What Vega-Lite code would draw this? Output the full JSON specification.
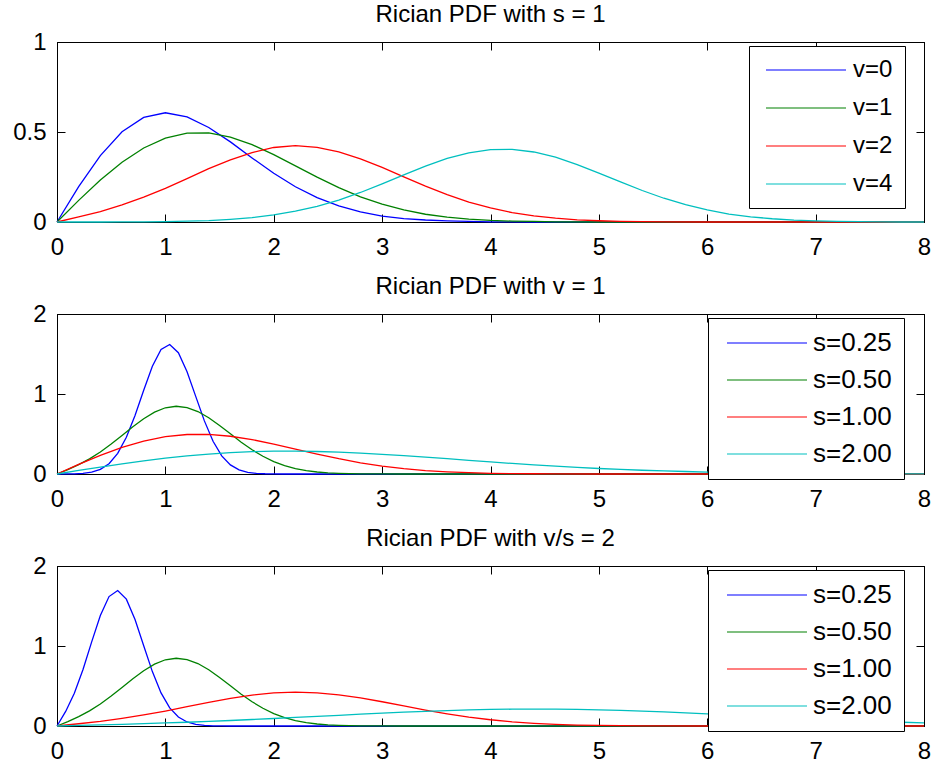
{
"$schema": "https://vega.github.io/schema/vega-lite/v6.json",
"background": "white",
"padding": {"left": 12, "top": 2, "right": 0, "bottom": 0},
"config": {
  "font": "Liberation Sans",
  "view": {"stroke": "black", "strokeWidth": 1},
  "axis": {"domainColor": "black", "domainWidth": 1, "tickColor": "black", "tickWidth": 1, "tickSize": -8, "labelColor": "black", "labelFont": "Liberation Sans", "labelFontSize": 24, "grid": false, "labelFlush": false, "labelOverlap": false},
  "title": {"font": "Liberation Sans", "fontSize": 24, "fontWeight": "normal", "color": "black", "offset": 3, "frame": "group", "anchor": "middle"},
  "legend": {"orient": "none", "title": null, "strokeColor": "black", "fillColor": "white", "padding": 12, "symbolStrokeWidth": 1.2, "labelFont": "Liberation Sans", "labelColor": "black", "labelLimit": 0}
},
"datasets": {
"p1": [
{"k":"v=0","x":0,"y":0},{"k":"v=0","x":0.2,"y":0.196},{"k":"v=0","x":0.4,"y":0.369},{"k":"v=0","x":0.6,"y":0.501},{"k":"v=0","x":0.8,"y":0.581},{"k":"v=0","x":1.0,"y":0.607},{"k":"v=0","x":1.2,"y":0.584},{"k":"v=0","x":1.4,"y":0.525},{"k":"v=0","x":1.6,"y":0.445},{"k":"v=0","x":1.8,"y":0.356},{"k":"v=0","x":2.0,"y":0.271},{"k":"v=0","x":2.2,"y":0.196},{"k":"v=0","x":2.4,"y":0.135},{"k":"v=0","x":2.6,"y":0.089},{"k":"v=0","x":2.8,"y":0.056},{"k":"v=0","x":3.0,"y":0.033},{"k":"v=0","x":3.2,"y":0.019},{"k":"v=0","x":3.4,"y":0.011},{"k":"v=0","x":3.6,"y":0.006},{"k":"v=0","x":3.8,"y":0.003},{"k":"v=0","x":4.0,"y":0.001},{"k":"v=0","x":4.4,"y":0},{"k":"v=0","x":8,"y":0},
{"k":"v=1","x":0,"y":0},{"k":"v=1","x":0.2,"y":0.120},{"k":"v=1","x":0.4,"y":0.233},{"k":"v=1","x":0.6,"y":0.332},{"k":"v=1","x":0.8,"y":0.411},{"k":"v=1","x":1.0,"y":0.466},{"k":"v=1","x":1.2,"y":0.494},{"k":"v=1","x":1.4,"y":0.495},{"k":"v=1","x":1.6,"y":0.472},{"k":"v=1","x":1.8,"y":0.430},{"k":"v=1","x":2.0,"y":0.374},{"k":"v=1","x":2.2,"y":0.312},{"k":"v=1","x":2.4,"y":0.249},{"k":"v=1","x":2.6,"y":0.191},{"k":"v=1","x":2.8,"y":0.140},{"k":"v=1","x":3.0,"y":0.099},{"k":"v=1","x":3.2,"y":0.067},{"k":"v=1","x":3.4,"y":0.043},{"k":"v=1","x":3.6,"y":0.027},{"k":"v=1","x":3.8,"y":0.016},{"k":"v=1","x":4.0,"y":0.009},{"k":"v=1","x":4.2,"y":0.005},{"k":"v=1","x":4.4,"y":0.003},{"k":"v=1","x":4.6,"y":0.001},{"k":"v=1","x":5.0,"y":0},{"k":"v=1","x":8,"y":0},
{"k":"v=2","x":0,"y":0},{"k":"v=2","x":0.2,"y":0.028},{"k":"v=2","x":0.4,"y":0.058},{"k":"v=2","x":0.6,"y":0.095},{"k":"v=2","x":0.8,"y":0.138},{"k":"v=2","x":1.0,"y":0.187},{"k":"v=2","x":1.2,"y":0.241},{"k":"v=2","x":1.4,"y":0.296},{"k":"v=2","x":1.6,"y":0.345},{"k":"v=2","x":1.8,"y":0.386},{"k":"v=2","x":2.0,"y":0.414},{"k":"v=2","x":2.2,"y":0.424},{"k":"v=2","x":2.4,"y":0.415},{"k":"v=2","x":2.6,"y":0.390},{"k":"v=2","x":2.8,"y":0.351},{"k":"v=2","x":3.0,"y":0.303},{"k":"v=2","x":3.2,"y":0.251},{"k":"v=2","x":3.4,"y":0.199},{"k":"v=2","x":3.6,"y":0.152},{"k":"v=2","x":3.8,"y":0.111},{"k":"v=2","x":4.0,"y":0.078},{"k":"v=2","x":4.2,"y":0.052},{"k":"v=2","x":4.4,"y":0.034},{"k":"v=2","x":4.6,"y":0.021},{"k":"v=2","x":4.8,"y":0.012},{"k":"v=2","x":5.0,"y":0.007},{"k":"v=2","x":5.2,"y":0.004},{"k":"v=2","x":5.4,"y":0.002},{"k":"v=2","x":5.6,"y":0.001},{"k":"v=2","x":6.0,"y":0},{"k":"v=2","x":8,"y":0},
{"k":"v=4","x":0,"y":0},{"k":"v=4","x":0.2,"y":0.000},{"k":"v=4","x":0.4,"y":0.000},{"k":"v=4","x":0.6,"y":0.001},{"k":"v=4","x":0.8,"y":0.001},{"k":"v=4","x":1.0,"y":0.002},{"k":"v=4","x":1.2,"y":0.005},{"k":"v=4","x":1.4,"y":0.008},{"k":"v=4","x":1.6,"y":0.015},{"k":"v=4","x":1.8,"y":0.024},{"k":"v=4","x":2.0,"y":0.039},{"k":"v=4","x":2.2,"y":0.060},{"k":"v=4","x":2.4,"y":0.087},{"k":"v=4","x":2.6,"y":0.122},{"k":"v=4","x":2.8,"y":0.164},{"k":"v=4","x":3.0,"y":0.212},{"k":"v=4","x":3.2,"y":0.262},{"k":"v=4","x":3.4,"y":0.310},{"k":"v=4","x":3.6,"y":0.353},{"k":"v=4","x":3.8,"y":0.384},{"k":"v=4","x":4.0,"y":0.402},{"k":"v=4","x":4.2,"y":0.404},{"k":"v=4","x":4.4,"y":0.389},{"k":"v=4","x":4.6,"y":0.360},{"k":"v=4","x":4.8,"y":0.319},{"k":"v=4","x":5.0,"y":0.272},{"k":"v=4","x":5.2,"y":0.223},{"k":"v=4","x":5.4,"y":0.175},{"k":"v=4","x":5.6,"y":0.132},{"k":"v=4","x":5.8,"y":0.096},{"k":"v=4","x":6.0,"y":0.067},{"k":"v=4","x":6.2,"y":0.044},{"k":"v=4","x":6.4,"y":0.029},{"k":"v=4","x":6.6,"y":0.018},{"k":"v=4","x":6.8,"y":0.010},{"k":"v=4","x":7.0,"y":0.006},{"k":"v=4","x":7.2,"y":0.003},{"k":"v=4","x":7.4,"y":0.002},{"k":"v=4","x":7.6,"y":0.001},{"k":"v=4","x":7.8,"y":0.000},{"k":"v=4","x":8.0,"y":0.000}
],
"p2": [
{"k":"s=0.25","x":0,"y":0},{"k":"s=0.25","x":0.08,"y":0.001},{"k":"s=0.25","x":0.16,"y":0.002},{"k":"s=0.25","x":0.24,"y":0.008},{"k":"s=0.25","x":0.32,"y":0.023},{"k":"s=0.25","x":0.40,"y":0.058},{"k":"s=0.25","x":0.48,"y":0.129},{"k":"s=0.25","x":0.56,"y":0.258},{"k":"s=0.25","x":0.64,"y":0.459},{"k":"s=0.25","x":0.72,"y":0.732},{"k":"s=0.25","x":0.80,"y":1.047},{"k":"s=0.25","x":0.88,"y":1.346},{"k":"s=0.25","x":0.96,"y":1.556},{"k":"s=0.25","x":1.04,"y":1.619},{"k":"s=0.25","x":1.12,"y":1.516},{"k":"s=0.25","x":1.20,"y":1.278},{"k":"s=0.25","x":1.28,"y":0.970},{"k":"s=0.25","x":1.36,"y":0.664},{"k":"s=0.25","x":1.44,"y":0.409},{"k":"s=0.25","x":1.52,"y":0.227},{"k":"s=0.25","x":1.60,"y":0.114},{"k":"s=0.25","x":1.68,"y":0.051},{"k":"s=0.25","x":1.76,"y":0.021},{"k":"s=0.25","x":1.84,"y":0.008},{"k":"s=0.25","x":1.92,"y":0.003},{"k":"s=0.25","x":2.00,"y":0.001},{"k":"s=0.25","x":2.08,"y":0},{"k":"s=0.25","x":8,"y":0},
{"k":"s=0.50","x":0,"y":0},{"k":"s=0.50","x":0.1,"y":0.055},{"k":"s=0.50","x":0.2,"y":0.117},{"k":"s=0.50","x":0.3,"y":0.189},{"k":"s=0.50","x":0.4,"y":0.275},{"k":"s=0.50","x":0.5,"y":0.374},{"k":"s=0.50","x":0.6,"y":0.482},{"k":"s=0.50","x":0.7,"y":0.591},{"k":"s=0.50","x":0.8,"y":0.690},{"k":"s=0.50","x":0.9,"y":0.773},{"k":"s=0.50","x":1.0,"y":0.828},{"k":"s=0.50","x":1.1,"y":0.847},{"k":"s=0.50","x":1.2,"y":0.831},{"k":"s=0.50","x":1.3,"y":0.781},{"k":"s=0.50","x":1.4,"y":0.703},{"k":"s=0.50","x":1.5,"y":0.607},{"k":"s=0.50","x":1.6,"y":0.502},{"k":"s=0.50","x":1.7,"y":0.398},{"k":"s=0.50","x":1.8,"y":0.303},{"k":"s=0.50","x":1.9,"y":0.222},{"k":"s=0.50","x":2.0,"y":0.155},{"k":"s=0.50","x":2.1,"y":0.104},{"k":"s=0.50","x":2.2,"y":0.068},{"k":"s=0.50","x":2.3,"y":0.042},{"k":"s=0.50","x":2.4,"y":0.025},{"k":"s=0.50","x":2.5,"y":0.014},{"k":"s=0.50","x":2.6,"y":0.008},{"k":"s=0.50","x":2.7,"y":0.004},{"k":"s=0.50","x":2.8,"y":0.002},{"k":"s=0.50","x":3.0,"y":0.001},{"k":"s=0.50","x":3.2,"y":0},{"k":"s=0.50","x":8,"y":0},
{"k":"s=1.00","x":0,"y":0},{"k":"s=1.00","x":0.2,"y":0.120},{"k":"s=1.00","x":0.4,"y":0.233},{"k":"s=1.00","x":0.6,"y":0.332},{"k":"s=1.00","x":0.8,"y":0.411},{"k":"s=1.00","x":1.0,"y":0.466},{"k":"s=1.00","x":1.2,"y":0.494},{"k":"s=1.00","x":1.4,"y":0.495},{"k":"s=1.00","x":1.6,"y":0.472},{"k":"s=1.00","x":1.8,"y":0.430},{"k":"s=1.00","x":2.0,"y":0.374},{"k":"s=1.00","x":2.2,"y":0.312},{"k":"s=1.00","x":2.4,"y":0.249},{"k":"s=1.00","x":2.6,"y":0.191},{"k":"s=1.00","x":2.8,"y":0.140},{"k":"s=1.00","x":3.0,"y":0.099},{"k":"s=1.00","x":3.2,"y":0.067},{"k":"s=1.00","x":3.4,"y":0.043},{"k":"s=1.00","x":3.6,"y":0.027},{"k":"s=1.00","x":3.8,"y":0.016},{"k":"s=1.00","x":4.0,"y":0.009},{"k":"s=1.00","x":4.2,"y":0.005},{"k":"s=1.00","x":4.4,"y":0.003},{"k":"s=1.00","x":4.6,"y":0.001},{"k":"s=1.00","x":5.0,"y":0},{"k":"s=1.00","x":8,"y":0},
{"k":"s=2.00","x":0,"y":0},{"k":"s=2.00","x":0.2,"y":0.044},{"k":"s=2.00","x":0.4,"y":0.087},{"k":"s=2.00","x":0.6,"y":0.127},{"k":"s=2.00","x":0.8,"y":0.165},{"k":"s=2.00","x":1.0,"y":0.198},{"k":"s=2.00","x":1.2,"y":0.226},{"k":"s=2.00","x":1.4,"y":0.249},{"k":"s=2.00","x":1.6,"y":0.267},{"k":"s=2.00","x":1.8,"y":0.279},{"k":"s=2.00","x":2.0,"y":0.285},{"k":"s=2.00","x":2.2,"y":0.286},{"k":"s=2.00","x":2.4,"y":0.281},{"k":"s=2.00","x":2.6,"y":0.273},{"k":"s=2.00","x":2.8,"y":0.261},{"k":"s=2.00","x":3.0,"y":0.246},{"k":"s=2.00","x":3.2,"y":0.229},{"k":"s=2.00","x":3.4,"y":0.210},{"k":"s=2.00","x":3.6,"y":0.191},{"k":"s=2.00","x":3.8,"y":0.171},{"k":"s=2.00","x":4.0,"y":0.151},{"k":"s=2.00","x":4.2,"y":0.132},{"k":"s=2.00","x":4.4,"y":0.115},{"k":"s=2.00","x":4.6,"y":0.098},{"k":"s=2.00","x":4.8,"y":0.083},{"k":"s=2.00","x":5.0,"y":0.069},{"k":"s=2.00","x":5.2,"y":0.057},{"k":"s=2.00","x":5.4,"y":0.047},{"k":"s=2.00","x":5.6,"y":0.038},{"k":"s=2.00","x":5.8,"y":0.031},{"k":"s=2.00","x":6.0,"y":0.024},{"k":"s=2.00","x":6.2,"y":0.019},{"k":"s=2.00","x":6.4,"y":0.015},{"k":"s=2.00","x":6.6,"y":0.011},{"k":"s=2.00","x":6.8,"y":0.009},{"k":"s=2.00","x":7.0,"y":0.007},{"k":"s=2.00","x":7.2,"y":0.005},{"k":"s=2.00","x":7.4,"y":0.004},{"k":"s=2.00","x":7.6,"y":0.003},{"k":"s=2.00","x":7.8,"y":0.002},{"k":"s=2.00","x":8.0,"y":0.001}
],
"p3": [
{"k":"s=0.25","x":0,"y":0},{"k":"s=0.25","x":0.08,"y":0.182},{"k":"s=0.25","x":0.16,"y":0.410},{"k":"s=0.25","x":0.24,"y":0.707},{"k":"s=0.25","x":0.32,"y":1.052},{"k":"s=0.25","x":0.40,"y":1.381},{"k":"s=0.25","x":0.48,"y":1.618},{"k":"s=0.25","x":0.56,"y":1.694},{"k":"s=0.25","x":0.64,"y":1.586},{"k":"s=0.25","x":0.72,"y":1.332},{"k":"s=0.25","x":0.80,"y":1.004},{"k":"s=0.25","x":0.88,"y":0.680},{"k":"s=0.25","x":0.96,"y":0.414},{"k":"s=0.25","x":1.04,"y":0.227},{"k":"s=0.25","x":1.12,"y":0.112},{"k":"s=0.25","x":1.20,"y":0.050},{"k":"s=0.25","x":1.28,"y":0.020},{"k":"s=0.25","x":1.36,"y":0.007},{"k":"s=0.25","x":1.44,"y":0.002},{"k":"s=0.25","x":1.52,"y":0.001},{"k":"s=0.25","x":1.60,"y":0},{"k":"s=0.25","x":8,"y":0},
{"k":"s=0.50","x":0,"y":0},{"k":"s=0.50","x":0.1,"y":0.055},{"k":"s=0.50","x":0.2,"y":0.117},{"k":"s=0.50","x":0.3,"y":0.189},{"k":"s=0.50","x":0.4,"y":0.275},{"k":"s=0.50","x":0.5,"y":0.374},{"k":"s=0.50","x":0.6,"y":0.482},{"k":"s=0.50","x":0.7,"y":0.591},{"k":"s=0.50","x":0.8,"y":0.690},{"k":"s=0.50","x":0.9,"y":0.773},{"k":"s=0.50","x":1.0,"y":0.828},{"k":"s=0.50","x":1.1,"y":0.847},{"k":"s=0.50","x":1.2,"y":0.831},{"k":"s=0.50","x":1.3,"y":0.781},{"k":"s=0.50","x":1.4,"y":0.703},{"k":"s=0.50","x":1.5,"y":0.607},{"k":"s=0.50","x":1.6,"y":0.502},{"k":"s=0.50","x":1.7,"y":0.398},{"k":"s=0.50","x":1.8,"y":0.303},{"k":"s=0.50","x":1.9,"y":0.222},{"k":"s=0.50","x":2.0,"y":0.155},{"k":"s=0.50","x":2.1,"y":0.104},{"k":"s=0.50","x":2.2,"y":0.068},{"k":"s=0.50","x":2.3,"y":0.042},{"k":"s=0.50","x":2.4,"y":0.025},{"k":"s=0.50","x":2.5,"y":0.014},{"k":"s=0.50","x":2.6,"y":0.008},{"k":"s=0.50","x":2.7,"y":0.004},{"k":"s=0.50","x":2.8,"y":0.002},{"k":"s=0.50","x":3.0,"y":0.001},{"k":"s=0.50","x":3.2,"y":0},{"k":"s=0.50","x":8,"y":0},
{"k":"s=1.00","x":0,"y":0},{"k":"s=1.00","x":0.2,"y":0.028},{"k":"s=1.00","x":0.4,"y":0.058},{"k":"s=1.00","x":0.6,"y":0.095},{"k":"s=1.00","x":0.8,"y":0.138},{"k":"s=1.00","x":1.0,"y":0.187},{"k":"s=1.00","x":1.2,"y":0.241},{"k":"s=1.00","x":1.4,"y":0.296},{"k":"s=1.00","x":1.6,"y":0.345},{"k":"s=1.00","x":1.8,"y":0.386},{"k":"s=1.00","x":2.0,"y":0.414},{"k":"s=1.00","x":2.2,"y":0.424},{"k":"s=1.00","x":2.4,"y":0.415},{"k":"s=1.00","x":2.6,"y":0.390},{"k":"s=1.00","x":2.8,"y":0.351},{"k":"s=1.00","x":3.0,"y":0.303},{"k":"s=1.00","x":3.2,"y":0.251},{"k":"s=1.00","x":3.4,"y":0.199},{"k":"s=1.00","x":3.6,"y":0.152},{"k":"s=1.00","x":3.8,"y":0.111},{"k":"s=1.00","x":4.0,"y":0.078},{"k":"s=1.00","x":4.2,"y":0.052},{"k":"s=1.00","x":4.4,"y":0.034},{"k":"s=1.00","x":4.6,"y":0.021},{"k":"s=1.00","x":4.8,"y":0.012},{"k":"s=1.00","x":5.0,"y":0.007},{"k":"s=1.00","x":5.2,"y":0.004},{"k":"s=1.00","x":5.4,"y":0.002},{"k":"s=1.00","x":5.6,"y":0.001},{"k":"s=1.00","x":6.0,"y":0},{"k":"s=1.00","x":8,"y":0},
{"k":"s=2.00","x":0,"y":0},{"k":"s=2.00","x":0.2,"y":0.007},{"k":"s=2.00","x":0.4,"y":0.014},{"k":"s=2.00","x":0.6,"y":0.021},{"k":"s=2.00","x":0.8,"y":0.029},{"k":"s=2.00","x":1.0,"y":0.038},{"k":"s=2.00","x":1.2,"y":0.047},{"k":"s=2.00","x":1.4,"y":0.058},{"k":"s=2.00","x":1.6,"y":0.069},{"k":"s=2.00","x":1.8,"y":0.081},{"k":"s=2.00","x":2.0,"y":0.094},{"k":"s=2.00","x":2.2,"y":0.107},{"k":"s=2.00","x":2.4,"y":0.121},{"k":"s=2.00","x":2.6,"y":0.134},{"k":"s=2.00","x":2.8,"y":0.148},{"k":"s=2.00","x":3.0,"y":0.161},{"k":"s=2.00","x":3.2,"y":0.173},{"k":"s=2.00","x":3.4,"y":0.184},{"k":"s=2.00","x":3.6,"y":0.193},{"k":"s=2.00","x":3.8,"y":0.201},{"k":"s=2.00","x":4.0,"y":0.207},{"k":"s=2.00","x":4.2,"y":0.210},{"k":"s=2.00","x":4.4,"y":0.212},{"k":"s=2.00","x":4.6,"y":0.211},{"k":"s=2.00","x":4.8,"y":0.208},{"k":"s=2.00","x":5.0,"y":0.202},{"k":"s=2.00","x":5.2,"y":0.195},{"k":"s=2.00","x":5.4,"y":0.186},{"k":"s=2.00","x":5.6,"y":0.176},{"k":"s=2.00","x":5.8,"y":0.164},{"k":"s=2.00","x":6.0,"y":0.152},{"k":"s=2.00","x":6.2,"y":0.139},{"k":"s=2.00","x":6.4,"y":0.126},{"k":"s=2.00","x":6.6,"y":0.112},{"k":"s=2.00","x":6.8,"y":0.100},{"k":"s=2.00","x":7.0,"y":0.087},{"k":"s=2.00","x":7.2,"y":0.076},{"k":"s=2.00","x":7.4,"y":0.065},{"k":"s=2.00","x":7.6,"y":0.055},{"k":"s=2.00","x":7.8,"y":0.047},{"k":"s=2.00","x":8.0,"y":0.039}
]
},
"spacing": 92,
"bounds": "flush",
"resolve": {"scale": {"color": "independent"}, "legend": {"color": "independent"}},
"vconcat": [
{
  "width": 867, "height": 180,
  "title": "Rician PDF with s = 1",
  "data": {"name": "p1"},
  "layer": [
    {"mark": {"type": "line", "strokeWidth": 1.3},
     "encoding": {
       "x": {"field": "x", "type": "quantitative", "scale": {"domain": [0, 8], "nice": false}, "axis": {"title": null, "orient": "bottom", "values": [0,1,2,3,4,5,6,7,8], "format": "d", "labelPadding": 21}},
       "y": {"field": "y", "type": "quantitative", "scale": {"domain": [0, 1], "nice": false}, "axis": {"title": null, "orient": "left", "values": [0, 0.5, 1], "format": "~g", "labelPadding": 19}},
       "color": {"field": "k", "type": "nominal", "scale": {"domain": ["v=0","v=1","v=2","v=4"], "range": ["#0000FF","#008000","#FF0000","#00BFBF"]},
         "legend": {"legendX": 692, "legendY": 4, "symbolType": "M-4,0H4", "symbolSize": 400, "symbolOffset": 33, "labelOffset": 35, "labelFontSize": 24, "rowPadding": 14}}
     }},
    {"mark": {"type": "line", "opacity": 0},
     "encoding": {
       "x": {"field": "x", "type": "quantitative", "axis": {"title": null, "orient": "top", "values": [0,1,2,3,4,5,6,7,8], "labels": false}},
       "y": {"field": "y", "type": "quantitative", "axis": {"title": null, "orient": "right", "values": [0, 0.5, 1], "labels": false}}
     }}
  ],
  "resolve": {"axis": {"x": "independent", "y": "independent"}}
},
{
  "width": 867, "height": 160,
  "title": "Rician PDF with v = 1",
  "data": {"name": "p2"},
  "layer": [
    {"mark": {"type": "line", "strokeWidth": 1.3},
     "encoding": {
       "x": {"field": "x", "type": "quantitative", "scale": {"domain": [0, 8], "nice": false}, "axis": {"title": null, "orient": "bottom", "values": [0,1,2,3,4,5,6,7,8], "format": "d", "labelPadding": 21}},
       "y": {"field": "y", "type": "quantitative", "scale": {"domain": [0, 2], "nice": false}, "axis": {"title": null, "orient": "left", "values": [0, 1, 2], "format": "~g", "labelPadding": 19}},
       "color": {"field": "k", "type": "nominal", "scale": {"domain": ["s=0.25","s=0.50","s=1.00","s=2.00"], "range": ["#0000FF","#008000","#FF0000","#00BFBF"]},
         "legend": {"legendX": 651, "legendY": 4, "symbolType": "M-4,0H4", "symbolSize": 400, "symbolOffset": 34, "labelOffset": 33, "labelFontSize": 26, "rowPadding": 11}}
     }},
    {"mark": {"type": "line", "opacity": 0},
     "encoding": {
       "x": {"field": "x", "type": "quantitative", "axis": {"title": null, "orient": "top", "values": [0,1,2,3,4,5,6,7,8], "labels": false}},
       "y": {"field": "y", "type": "quantitative", "axis": {"title": null, "orient": "right", "values": [0, 1, 2], "labels": false}}
     }}
  ],
  "resolve": {"axis": {"x": "independent", "y": "independent"}}
},
{
  "width": 867, "height": 160,
  "title": "Rician PDF with v/s = 2",
  "data": {"name": "p3"},
  "layer": [
    {"mark": {"type": "line", "strokeWidth": 1.3},
     "encoding": {
       "x": {"field": "x", "type": "quantitative", "scale": {"domain": [0, 8], "nice": false}, "axis": {"title": null, "orient": "bottom", "values": [0,1,2,3,4,5,6,7,8], "format": "d", "labelPadding": 21}},
       "y": {"field": "y", "type": "quantitative", "scale": {"domain": [0, 2], "nice": false}, "axis": {"title": null, "orient": "left", "values": [0, 1, 2], "format": "~g", "labelPadding": 19}},
       "color": {"field": "k", "type": "nominal", "scale": {"domain": ["s=0.25","s=0.50","s=1.00","s=2.00"], "range": ["#0000FF","#008000","#FF0000","#00BFBF"]},
         "legend": {"legendX": 651, "legendY": 4, "symbolType": "M-4,0H4", "symbolSize": 400, "symbolOffset": 34, "labelOffset": 33, "labelFontSize": 26, "rowPadding": 11}}
     }},
    {"mark": {"type": "line", "opacity": 0},
     "encoding": {
       "x": {"field": "x", "type": "quantitative", "axis": {"title": null, "orient": "top", "values": [0,1,2,3,4,5,6,7,8], "labels": false}},
       "y": {"field": "y", "type": "quantitative", "axis": {"title": null, "orient": "right", "values": [0, 1, 2], "labels": false}}
     }}
  ],
  "resolve": {"axis": {"x": "independent", "y": "independent"}}
}
]
}
